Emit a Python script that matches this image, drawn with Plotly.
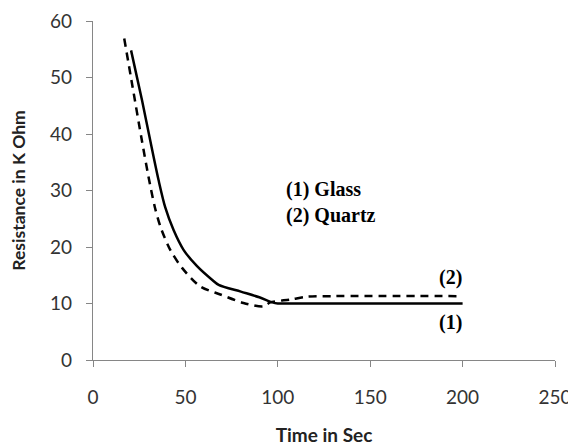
import plotly.graph_objects as go

time_glass = [20.6, 26.5, 31.5, 35.5, 39.1, 43.6, 49.0, 56.3, 64.4, 68.0, 80.0, 90.0, 97.0, 100, 105, 150, 200]
res_glass = [54.8, 46.0, 38.0, 31.8, 27.0, 23.0, 19.5, 16.6, 14.2, 13.3, 12.1, 11.1, 10.2, 10.0, 10.0, 10.0, 10.0]

time_quartz = [16.9, 21.5, 26.1, 30.0, 33.5, 36.8, 41.8, 48.2, 58.1, 68.9, 81.4, 92.2, 95.9, 106.9, 115.9, 130, 200]
res_quartz = [56.9, 48.2, 39.5, 32.5, 27.0, 23.3, 19.5, 16.3, 13.0, 11.6, 10.1, 9.5, 10.2, 10.7, 11.2, 11.3, 11.3]

x_ticks = [0, 50, 100, 150, 200, 250]
y_ticks = [0, 10, 20, 30, 40, 50, 60]

fig = go.Figure()
fig.add_trace(go.Scatter(x=time_glass, y=res_glass, mode="lines",
                         line=dict(color="black", width=2.5, shape="spline", smoothing=0.8),
                         showlegend=False))
fig.add_trace(go.Scatter(x=time_quartz, y=res_quartz, mode="lines",
                         line=dict(color="black", width=2.5, dash="8px,6px", shape="spline", smoothing=0.8),
                         showlegend=False))

serif = dict(family="Liberation Serif", size=20, color="black")
fig.add_annotation(x=103.6, y=30.2, text="<b>(1) Glass</b>", showarrow=False, xanchor="left", font=serif)
fig.add_annotation(x=103.6, y=25.5, text="<b>(2) Quartz</b>", showarrow=False, xanchor="left", font=serif)
fig.add_annotation(x=193.4, y=14.6, text="<b>(2)</b>", showarrow=False, font=serif)
fig.add_annotation(x=193.4, y=6.6, text="<b>(1)</b>", showarrow=False, font=serif)

axis_common = dict(showgrid=False, zeroline=False, showline=True, linecolor="#868686", linewidth=1.3,
                   ticks="outside", ticklen=6, tickcolor="#868686", tickwidth=1.3, automargin=False,
                   tickfont=dict(family="Lato", size=19, color="#333333"))

fig.update_xaxes(range=[0, 250], tickvals=x_ticks, ticklabelstandoff=14, ticklabeloverflow="allow",
                 title=dict(text="<b>Time in Sec</b>", standoff=24,
                            font=dict(family="Lato", size=19, color="#222222")), **axis_common)
fig.update_yaxes(range=[0, 60], tickvals=y_ticks, ticklabelstandoff=10,
                 title=dict(text="<b>Resistance in K Ohm</b>", standoff=19,
                            font=dict(family="Lato", size=17.5, color="#222222")), **axis_common)

fig.update_layout(width=568, height=446, margin=dict(l=93, r=13, t=21, b=86),
                  plot_bgcolor="white", paper_bgcolor="white")

fig.write_html("out.html")
